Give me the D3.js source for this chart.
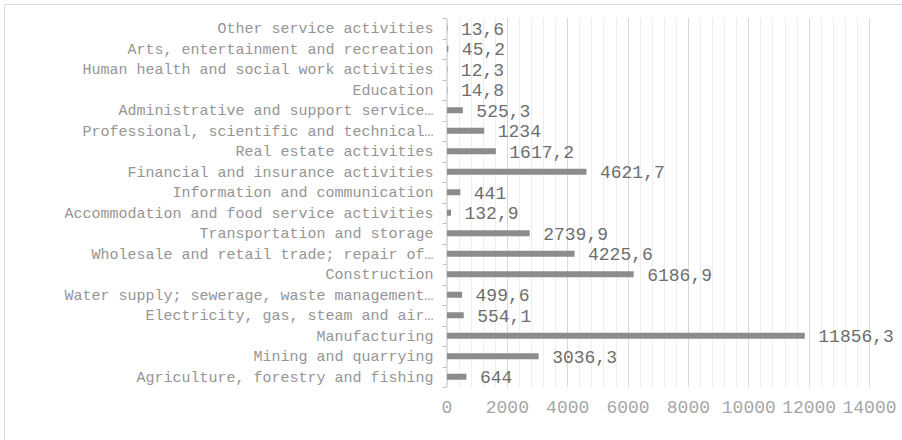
<!DOCTYPE html>
<html>
<head>
<meta charset="utf-8">
<script src="https://cdn.jsdelivr.net/npm/d3@7"></script>
<style>
  html, body { margin: 0; padding: 0; background: #fff; }
  svg { display: block; }
</style>
</head>
<body>
<script>
// Gross value added by economic activity
const categories = [
  "Other service activities",
  "Arts, entertainment and recreation",
  "Human health and social work activities",
  "Education",
  "Administrative and support service\u2026",
  "Professional, scientific and technical\u2026",
  "Real estate activities",
  "Financial and insurance activities",
  "Information and communication",
  "Accommodation and food service activities",
  "Transportation and storage",
  "Wholesale and retail trade; repair of\u2026",
  "Construction",
  "Water supply; sewerage, waste management\u2026",
  "Electricity, gas, steam and air\u2026",
  "Manufacturing",
  "Mining and quarrying",
  "Agriculture, forestry and fishing"
];
const values = [13.6, 45.2, 12.3, 14.8, 525.3, 1234, 1617.2, 4621.7, 441, 132.9,
  2739.9, 4225.6, 6186.9, 499.6, 554.1, 11856.3, 3036.3, 644];
const tickValues = [0, 2000, 4000, 6000, 8000, 10000, 12000, 14000];
const minorStep = 400;

const W = 902, H = 440;
const margin = { left: 446.5, right: 33, top: 18, bottom: 53 };
const font = "'Liberation Mono', 'Courier New', monospace";

const svg = d3.select("body").append("svg").attr("width", W).attr("height", H);

// chart frame
svg.append("rect").attr("x", 4.5).attr("y", 4.5).attr("width", W + 10).attr("height", H + 10)
  .attr("fill", "#fff").attr("stroke", "#d9d9d9").attr("stroke-width", 1);

const x = d3.scaleLinear().domain([0, 14000]).range([margin.left, W - margin.right]);
const y = d3.scaleBand().domain(categories).range([margin.top, H - margin.bottom]);

// minor grid
const minor = d3.range(minorStep, 14000 + 1, minorStep).filter(v => v % 2000 !== 0);
svg.append("g").selectAll("line").data(minor).join("line")
  .attr("x1", d => Math.round(x(d)) + 0.5).attr("x2", d => Math.round(x(d)) + 0.5)
  .attr("y1", margin.top).attr("y2", H - margin.bottom)
  .attr("stroke", "#eeeeee").attr("stroke-width", 1);

// major grid
svg.append("g").selectAll("line").data(tickValues.slice(1)).join("line")
  .attr("x1", d => Math.round(x(d)) + 0.5).attr("x2", d => Math.round(x(d)) + 0.5)
  .attr("y1", margin.top).attr("y2", H - margin.bottom)
  .attr("stroke", "#d9d9d9").attr("stroke-width", 1);

// x axis labels
const xAxis = d3.axisBottom(x).tickValues(tickValues).tickSize(0).tickFormat(d3.format("d"));
const gx = svg.append("g").attr("transform", `translate(0,${H - margin.bottom + 10})`).call(xAxis);
gx.select(".domain").remove();
gx.selectAll("text").attr("font-family", font).attr("font-size", 18).attr("fill", "#a6a6a6").attr("dy", "0.71em");

// y axis with category ticks at band boundaries
const yAxis = d3.axisLeft(y).tickSize(0).tickPadding(13);
const gy = svg.append("g").attr("transform", `translate(${margin.left},0)`).call(yAxis);
gy.select(".domain").attr("stroke", "#bfbfbf");
gy.selectAll("text").attr("font-family", font).attr("font-size", 15).attr("fill", "#959595");
const bounds = d3.range(categories.length + 1).map(i => margin.top + i * y.step());
svg.append("g").selectAll("line").data(bounds).join("line")
  .attr("x1", margin.left - 4).attr("x2", margin.left)
  .attr("y1", d => Math.round(d) + 0.5).attr("y2", d => Math.round(d) + 0.5)
  .attr("stroke", "#bfbfbf");

// bars
const barH = 6;
svg.append("g").selectAll("rect").data(categories).join("rect")
  .attr("x", x(0) + 0.5)
  .attr("y", d => y(d) + y.bandwidth() / 2 - barH / 2)
  .attr("width", (d, i) => Math.max(0, x(values[i]) - x(0)))
  .attr("height", barH)
  .attr("fill", "#8c8c8c");

// value labels
const fmt = v => String(v).replace(".", ",");
svg.append("g").selectAll("text").data(categories).join("text")
  .attr("x", (d, i) => x(values[i]) + 14)
  .attr("y", d => y(d) + y.bandwidth() / 2)
  .attr("dy", "0.35em")
  .attr("font-family", font).attr("font-size", 18).attr("fill", "#6e6e6e")
  .text((d, i) => fmt(values[i]));
</script>
</body>
</html>
